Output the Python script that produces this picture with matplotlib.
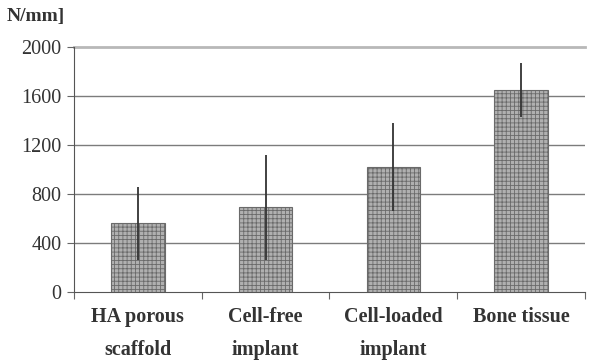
import matplotlib.pyplot as plt
import numpy as np

# values (N/mm)
groups = ["HA porous\nscaffold", "Cell-free\nimplant", "Cell-loaded\nimplant", "Bone tissue"]
means = [560, 690, 1020, 1650]
errors = [300, 430, 360, 220]
yticks = [0, 400, 800, 1200, 1600, 2000]

plt.rcParams['font.family'] = ['Liberation Serif', 'DejaVu Serif']
plt.rcParams['hatch.color'] = '#7a7a7a'
plt.rcParams['hatch.linewidth'] = 0.6

fig = plt.figure(figsize=(5.91, 3.61), dpi=100)
ax = fig.add_axes([0.125, 0.191, 0.865, 0.679])

x = np.arange(len(groups))
ax.bar(x, means, width=0.42, color='#b0b0b0', edgecolor='#6a6a6a', linewidth=0.8,
       hatch='++++', zorder=3)
ax.errorbar(x, means, yerr=errors, fmt='none', ecolor='#333333', elinewidth=1.3,
            capsize=0, zorder=4)

ax.set_xlim(-0.5, 3.5)
ax.set_ylim(0, 2000)
ax.set_yticks(yticks)
ax.set_yticklabels([str(v) for v in yticks], fontsize=14.5, color='#333333')
for v in yticks[1:-1]:
    ax.axhline(v, color='#7c7c7c', linewidth=1.0, zorder=1)
ax.axhline(2000, color='#b8b8b8', linewidth=2.0, zorder=1, clip_on=False)

ax.set_xticks(np.arange(-0.5, 4.0, 1.0))
ax.set_xticklabels([])
ax.set_xticks(x, minor=True)
ax.set_xticklabels(groups, minor=True, fontsize=14.5, fontweight='bold',
                   color='#333333', linespacing=1.85)
ax.tick_params(axis='x', which='minor', length=0, pad=11)
ax.tick_params(axis='x', which='major', length=5, color='#666666', direction='out')
ax.tick_params(axis='y', length=5, color='#666666', direction='out', pad=4)

for side in ['top', 'right']:
    ax.spines[side].set_visible(False)
ax.spines['left'].set_color('#555555')
ax.spines['bottom'].set_color('#555555')

fig.text(0.012, 0.953, "N/mm]", fontsize=14, fontweight='bold', color='#333333',
         va='center', ha='left')

fig.savefig("out.png", dpi=100)
